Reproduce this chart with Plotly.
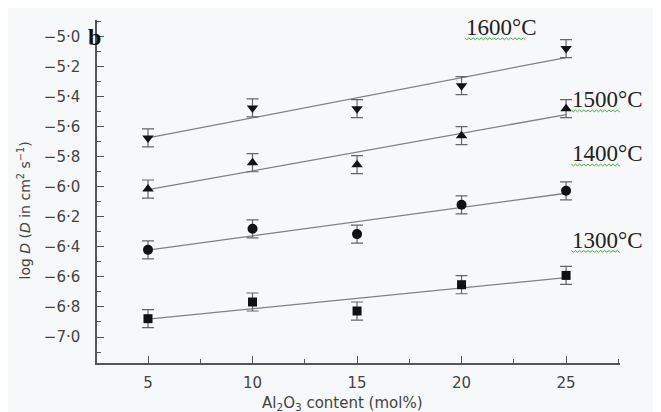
import numpy as np
import plotly.graph_objects as go

# ---- data ----
al2o3 = [5, 10, 15, 20, 25]
temps = ["1600°C", "1500°C", "1400°C", "1300°C"]
logD_1600 = [-5.675, -5.475, -5.48, -5.327, -5.08]
logD_1500 = [-6.015, -5.84, -5.853, -5.66, -5.48]
logD_1400 = [-6.42, -6.28, -6.315, -6.12, -6.027]
logD_1300 = [-6.878, -6.767, -6.827, -6.652, -6.59]
err = [0.06, 0.06, 0.06, 0.06, 0.06]

y_tickvals = [-5.0, -5.2, -5.4, -5.6, -5.8, -6.0, -6.2, -6.4, -6.6, -6.8, -7.0]
y_ticktext = ["−5·0", "−5·2", "−5·4", "−5·6", "−5·8", "−6·0", "−6·2", "−6·4", "−6·6", "−6·8", "−7·0"]
x_tickvals = [5, 10, 15, 20, 25]
x_ticktext = ["5", "10", "15", "20", "25"]

series = [logD_1600, logD_1500, logD_1400, logD_1300]
symbols = ["triangle-down", "triangle-up", "circle", "square"]
sizes = [10, 10, 10, 9]
# label anchor (data coords)
label_pos = [(20.1, -4.94), (25.2, -5.42), (25.2, -5.78), (25.2, -6.355)]

fig = go.Figure()

xs = np.array(al2o3, dtype=float)
for vals in series:
    k, b = np.polyfit(xs, np.array(vals), 1)
    fig.add_trace(go.Scatter(x=[xs[0], xs[-1]], y=[k * xs[0] + b, k * xs[-1] + b],
                             mode="lines", line=dict(color="#808080", width=1.3),
                             showlegend=False, hoverinfo="skip"))

for vals, sym, sz in zip(series, symbols, sizes):
    fig.add_trace(go.Scatter(x=al2o3, y=vals, mode="markers",
                             marker=dict(symbol=sym, size=sz, color="#111111"),
                             error_y=dict(type="data", array=err, visible=True,
                                          color="#666666", thickness=1.2, width=6),
                             showlegend=False))

annotations = []
shapes = []
for t, (lx, ly) in zip(temps, label_pos):
    annotations.append(dict(x=lx, y=ly, xref="x", yref="y", text=t, showarrow=False,
                            xanchor="left", yanchor="middle",
                            font=dict(family="Liberation Serif, Times New Roman, serif",
                                      size=23, color="#222222")))
    # spell-check style wavy underline
    x0 = lx + 0.05
    x1 = lx + 3.0
    yb = ly - 0.075
    n = int((x1 - x0) / 0.1)
    pts = []
    for i in range(n + 1):
        xx = x0 + i * 0.1
        yy = yb + (0.006 if i % 2 == 0 else -0.006)
        pts.append(f"{'M' if i == 0 else 'L'} {xx:.3f},{yy:.4f}")
    shapes.append(dict(type="path", path=" ".join(pts), xref="x", yref="y",
                       line=dict(color="#3fae3a", width=1)))

annotations.append(dict(x=0, y=1, xref="paper", yref="paper", text="<b>b</b>",
                        showarrow=False, xanchor="left", yanchor="top", xshift=-11, yshift=-2,
                        font=dict(family="Liberation Serif, Times New Roman, serif",
                                  size=24, color="#111111")))
annotations.append(dict(x=0.5, y=0, xref="paper", yref="paper",
                        text="Al<sub>2</sub>O<sub>3</sub> content (mol%)",
                        showarrow=False, xanchor="center", yanchor="middle", yshift=-40, xshift=-16,
                        font=dict(family="DejaVu Sans, Liberation Sans, sans-serif", size=15, color="#444444")))
annotations.append(dict(x=0, y=0.5, xref="paper", yref="paper",
                        text="log <i>D</i> (<i>D</i> in cm<sup>2</sup> s<sup>−1</sup>)",
                        showarrow=False, xanchor="center", yanchor="middle", xshift=-73, yshift=-19,
                        textangle=-90,
                        font=dict(family="DejaVu Sans, Liberation Sans, sans-serif", size=14, color="#444444")))

axis_common = dict(showline=True, linecolor="#555555", linewidth=1.5, showgrid=False,
                   zeroline=False, ticks="inside", ticklen=7, tickwidth=1.3, tickcolor="#555555",
                   tickfont=dict(family="DejaVu Sans, Liberation Sans, sans-serif", size=15, color="#444444"),
                   mirror=False)

# page has an 8px body margin, so figure is 8px smaller and margins shifted
fig.update_layout(
    width=653, height=404,
    margin=dict(l=89, r=41, t=12, b=49),
    paper_bgcolor="#f7f8f9", plot_bgcolor="#f7f8f9",
    xaxis=dict(range=[2.56, 27.58], tickmode="array", tickvals=x_tickvals, ticktext=x_ticktext,
               minor=dict(ticks="inside", ticklen=4, tickcolor="#555555", dtick=2.5, tick0=2.5),
               ticklabelstandoff=5, **axis_common),
    yaxis=dict(range=[-7.173, -4.89], tickmode="array", tickvals=y_tickvals, ticktext=y_ticktext,
               minor=dict(ticks="inside", ticklen=4, tickcolor="#555555", dtick=0.1, tick0=-5.0),
               ticklabelstandoff=12, **axis_common),
    annotations=annotations,
    shapes=shapes,
)

fig.write_html("out.html")
